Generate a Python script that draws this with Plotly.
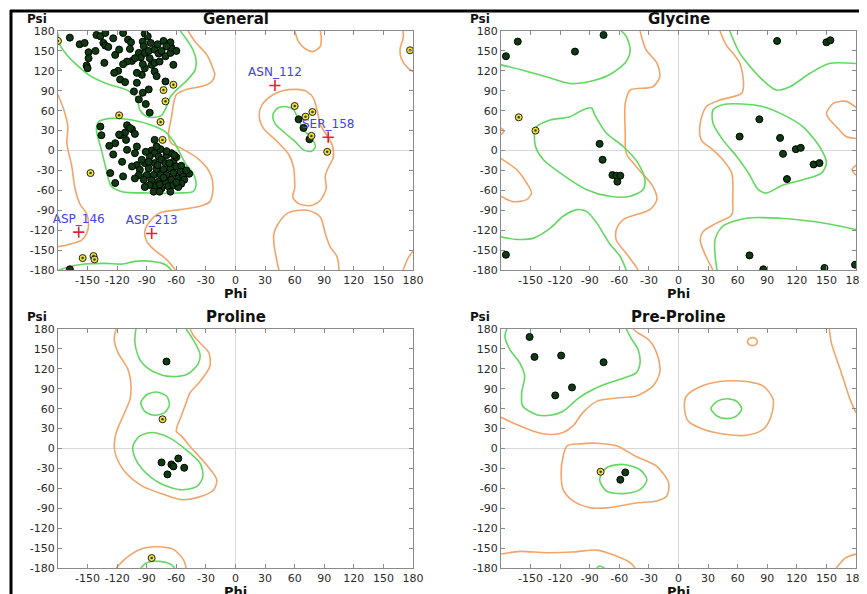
import plotly.graph_objects as go

# page body has an 8px margin, so the figure is placed at (8, 8) in the 867x594 window
OFF = 8
W, H = 867 - OFF, 594 - OFF

# ---------------- data ----------------
PANEL_TITLES = ["General", "Glycine", "Proline", "Pre-Proline"]
X_TICKS = [-150, -120, -90, -60, -30, 0, 30, 60, 90, 120, 150, 180]
Y_TICKS = [-180, -150, -120, -90, -60, -30, 0, 30, 60, 90, 120, 150, 180]

# General: favoured residues (phi, psi)
GEN_FAV = [
    (-168, 170), (-158, 160), (-153, 162), (-149, 148), (-149, 139), (-151, 128), (-150, 124),
    (-141, 174), (-137, 172), (-132, 177), (-134, 162), (-132, 158), (-129, 156), (-122, 144),
    (-133, 132), (-114, 177), (-109, 167), (-106, 163), (-107, 153), (-92, 176), (-89, 172),
    (-94, 164), (-93, 157), (-98, 147), (-96, 140), (-105, 135), (-102, 139), (-110, 134),
    (-114, 130), (-119, 120), (-123, 117), (-117, 107), (-112, 103), (-100, 102), (-103, 89),
    (-92, 147), (-88, 150), (-87, 139), (-82, 152), (-78, 146), (-75, 150), (-71, 142),
    (-66, 147), (-65, 155), (-66, 163), (-63, 129), (-71, 104), (-88, 92), (-94, 87),
    (-91, 70), (-87, 57), (-92, 124), (-95, 114), (-100, 117), (-94, 130), (-85, 129),
    (-82, 132), (-77, 134), (-82, 119), (-80, 112), (-86, 162), (-79, 160), (-73, 165),
    (-70, 157), (-60, 150), (-124, 169), (-118, 152), (-142, 150), (-98, 77),
    (-168, -179),
    # alpha region
    (-137, 36), (-136, 23), (-110, 38), (-105, 32), (-102, 25), (-112, 27), (-117, 23),
    (-122, 11), (-110, 1), (-100, 6), (-124, -6), (-115, -17), (-82, 16), (-85, 0),
    (-82, -4), (-87, -9), (-78, -9), (-75, -14), (-70, -7), (-65, -4), (-63, -17),
    (-71, -19), (-82, -19), (-92, -19), (-100, -22), (-105, -24), (-97, -29), (-88, -27),
    (-80, -28), (-73, -29), (-66, -27), (-60, -24), (-55, -23), (-56, -32), (-63, -34),
    (-70, -37), (-76, -37), (-83, -37), (-90, -37), (-98, -37), (-102, -42), (-93, -44),
    (-85, -45), (-78, -47), (-71, -47), (-65, -44), (-58, -42), (-53, -39), (-68, -54),
    (-75, -57), (-82, -55), (-87, -52), (-63, -52), (-83, -62), (-127, -34), (-122, -49),
    (-114, -39), (-66, -62), (-92, -55), (-95, -14), (-102, -4), (-60, -10), (-47, -35),
    (-50, -30), (-52, -44), (-55, -50), (-58, -55), (-67, -19), (-79, -22), (-88, -17),
    (-73, -41), (-77, -51), (-60, -48), (-77, -62), (-91, -2), (-76, 2), (-70, -1),
    (-62, -7), (-80, 6), (-111, 16), (-118, 24), (-107, 34), (-128, 7),
    # left-handed region
    (64, 47), (69, 34), (75, 17),
]
GEN_ALLOW = [
    (-180, 165), (-73, 91), (-71, 74), (-63, 99), (-76, 43), (-74, 16), (-118, 53),
    (-147, -34), (-155, -162), (-144, -159), (-143, -164), (177, 151),
    (60, 67), (71, 51), (78, 58), (77, 22), (93, -2),
]
GEN_OUT = [(40, 98), (94, 20), (-159, -123), (-85, -125)]
GEN_OUT_LABELS = ["ASN_112", "SER_158", "ASP_146", "ASP_213"]

GLY_FAV = [
    (-175, 142), (-163, 164), (-105, 149), (-76, 174), (-80, 10), (-77, -14), (-67, -37),
    (-63, -38), (-59, -38), (-62, -47), (-175, -157), (100, 165), (150, 163), (154, 166),
    (62, 21), (82, 47), (103, 19), (106, -5), (119, 2), (124, 4), (137, -21), (143, -19),
    (110, -43), (72, -158), (86, -179), (148, -177), (179, -172),
]
GLY_ALLOW = [(-162, 50), (-145, 30)]

PRO_FAV = [(-70, 131), (-75, -21), (-65, -24), (-63, -27), (-58, -15), (-52, -29), (-69, -39)]
PRO_ALLOW = [(-74, 44), (-85, -165)]

PRE_FAV = [(-151, 168), (-146, 138), (-119, 140), (-76, 130), (-108, 92), (-125, 80),
           (-54, -36), (-59, -47)]
PRE_ALLOW = [(-79, -35)]

# contour lines (phi, psi)
GEN_GREEN = [
    [(-180, 176), (-178, 159), (-171, 144), (-161, 129), (-149, 114), (-131, 101), (-110, 91),
     (-100, 79), (-97, 61), (-90, 51), (-82, 50), (-75, 53), (-70, 66), (-66, 81), (-60, 91),
     (-49, 106), (-41, 121), (-40, 136), (-43, 151), (-49, 166), (-56, 180)],
    [(-139, 43), (-129, 48), (-105, 46), (-85, 38), (-71, 28), (-62, 12), (-51, -19),
     (-43, -34), (-40, -52), (-43, -62), (-58, -64), (-88, -64), (-115, -62), (-126, -54),
     (-131, -29), (-136, 1), (-141, 31), (-139, 43)],
    [(-180, -181), (-173, -177), (-153, -171), (-132, -170), (-115, -171), (-102, -167),
     (-85, -167), (-71, -172), (-65, -180)],
    [(38, 54), (43, 64), (52, 66), (59, 61), (64, 46), (69, 31), (77, 19), (81, 6), (77, -1),
     (69, 1), (60, 14), (48, 29), (40, 41), (38, 54)],
]
GEN_ORANGE = [
    [(-48, 180), (-41, 164), (-29, 144), (-23, 124), (-21, 114), (-24, 104), (-33, 97),
     (-50, 92), (-60, 84), (-63, 69), (-65, 49), (-68, 24), (-65, 11), (-56, 4), (-39, -11),
     (-29, -26), (-24, -41), (-23, -61), (-26, -77), (-36, -84), (-56, -89), (-77, -94),
     (-87, -107), (-92, -122), (-90, -137), (-83, -149), (-70, -164), (-61, -180)],
    [(-180, 84), (-174, 61), (-170, 36), (-171, 11), (-166, -24), (-163, -55), (-158, -80),
     (-151, -95), (-149, -112), (-151, -125), (-156, -135), (-170, -142), (-180, -145)],
    [(60, 180), (64, 164), (70, 154), (79, 149), (86, 157), (87, 169), (86, 180)],
    [(170, 180), (170, 169), (167, 154), (168, 139), (175, 124), (181, 118)],
    [(181, -150), (175, -162), (170, -180)],
    [(38, 84), (48, 90), (62, 92), (72, 89), (79, 79), (83, 59), (86, 39), (92, 24), (98, 9),
     (99, -11), (94, -26), (91, -39), (92, -57), (86, -75), (76, -83), (64, -80), (58, -70),
     (60, -57), (60, -46), (59, -26), (54, -6), (42, 14), (28, 34), (24, 54), (27, 69), (38, 84)],
    [(44, -180), (39, -125), (52, -95), (73, -90), (86, -100), (91, -125), (96, -145),
     (103, -160), (105, -180)],
]

GLY_GREEN = [
    [(-180, 129), (-158, 121), (-134, 111), (-110, 101), (-90, 104), (-70, 114), (-53, 134),
     (-49, 152), (-53, 172), (-58, 180)],
    [(-144, 36), (-130, 46), (-110, 51), (-97, 61), (-88, 64), (-85, 54), (-73, 26), (-56, 6),
     (-41, -19), (-34, -44), (-36, -59), (-49, -69), (-70, -69), (-93, -59), (-117, -37),
     (-137, -14), (-145, 6), (-146, 29), (-144, 36)],
    [(-180, -130), (-164, -134), (-147, -132), (-130, -117), (-117, -99), (-103, -89),
     (-93, -92), (-83, -109), (-70, -140), (-59, -160), (-53, -180)],
    [(52, 180), (62, 147), (82, 111), (99, 91), (113, 96), (133, 116), (153, 131), (180, 131)],
    [(35, 61), (45, 69), (65, 70), (86, 66), (106, 54), (126, 36), (143, 6), (150, -19),
     (145, -34), (126, -44), (106, -52), (89, -64), (81, -59), (71, -34), (59, -9), (45, 16),
     (35, 41), (35, 61)],
    [(39, -180), (37, -135), (45, -114), (69, -102), (103, -102), (137, -107), (164, -114),
     (180, -119)],
]
GLY_ORANGE = [
    [(-39, 180), (-33, 152), (-22, 132), (-19, 111), (-26, 96), (-49, 91), (-54, 71),
     (-54, 26), (-53, -4), (-43, -24), (-26, -54), (-22, -74), (-29, -89), (-56, -104),
     (-63, -119), (-63, -135), (-53, -155), (-43, -175), (-41, -180)],
    [(42, 180), (48, 160), (62, 132), (66, 101), (64, 86), (42, 76), (28, 66), (22, 41),
     (23, 16), (35, 1), (45, -14), (54, -34), (55, -74), (54, -97), (39, -109), (25, -122),
     (22, -135), (28, -160), (35, -180)],
    [(-180, -12), (-178, -14), (-164, -29), (-154, -49), (-149, -64), (-154, -74),
     (-168, -77), (-180, -69)],
    [(-180, 34), (-177, 29), (-180, 24)],
    [(180, 65), (170, 74), (157, 71), (150, 56), (152, 49), (160, 36), (170, 21), (180, 18)],
    [(180, -22), (176, -29), (180, -37)],
]

PRO_GREEN = [
    [(-101, 180), (-102, 159), (-97, 134), (-87, 119), (-70, 109), (-50, 111), (-38, 127),
     (-36, 142), (-43, 164), (-50, 180)],
    [(-96, 69), (-90, 81), (-80, 85), (-70, 79), (-67, 66), (-72, 54), (-82, 50), (-92, 56),
     (-96, 69)],
    [(-104, 4), (-97, 19), (-84, 24), (-67, 16), (-50, -2), (-36, -22), (-33, -42), (-39, -57),
     (-56, -62), (-77, -52), (-94, -32), (-102, -14), (-104, 4)],
    [(-96, -180), (-90, -172), (-77, -170), (-65, -175), (-62, -180)],
]
PRO_ORANGE = [
    [(-121, 180), (-123, 164), (-119, 144), (-109, 119), (-106, 94), (-107, 74), (-114, 49),
     (-121, 24), (-123, 4), (-121, -12), (-111, -37), (-94, -57), (-73, -69), (-55, -77),
     (-39, -74), (-22, -62), (-19, -47), (-28, -27), (-43, -2), (-55, 19), (-60, 26),
     (-55, 49), (-50, 69), (-46, 84), (-36, 101), (-26, 124), (-27, 144), (-36, 159),
     (-43, 171), (-46, 180)],
    [(-121, -180), (-111, -165), (-97, -152), (-80, -148), (-63, -152), (-53, -167), (-50, -180)],
]

PRE_GREEN = [
    [(-174, 180), (-176, 169), (-171, 149), (-161, 129), (-156, 109), (-159, 84), (-158, 64),
     (-144, 51), (-130, 50), (-117, 56), (-103, 74), (-93, 84), (-76, 96), (-56, 106),
     (-43, 114), (-39, 129), (-41, 149), (-48, 166), (-53, 180)],
    [(-80, -47), (-73, -29), (-56, -24), (-39, -32), (-32, -47), (-39, -62), (-56, -68),
     (-73, -64), (-80, -47)],
    [(33, 60), (39, 71), (49, 75), (59, 71), (64, 60), (59, 49), (49, 45), (39, 49), (33, 60)],
    [(-83, -180), (-80, -177), (-75, -180)],
]
PRE_ORANGE = [
    [(-180, 47), (-164, 36), (-147, 26), (-130, 21), (-117, 24), (-107, 34), (-97, 54),
     (-83, 71), (-63, 76), (-43, 79), (-26, 94), (-19, 114), (-21, 139), (-29, 162),
     (-43, 176), (-46, 180)],
    [(-117, -12), (-113, 4), (-100, 7), (-83, 8), (-63, 4), (-43, -12), (-22, -27), (-10, -52),
     (-12, -72), (-22, -79), (-43, -82), (-70, -89), (-90, -89), (-107, -79), (-117, -62),
     (-119, -37), (-117, -12)],
    [(8, 79), (22, 93), (42, 101), (69, 101), (86, 94), (96, 74), (94, 49), (86, 29), (69, 20),
     (49, 21), (25, 29), (10, 41), (6, 61), (8, 79)],
    [(70, 161), (72, 166), (75, 167), (78, 166), (80, 161), (78, 156), (75, 155), (72, 156),
     (70, 161)],
    [(153, 180), (155, 159), (164, 119), (174, 74), (180, 54)],
    [(-180, -159), (-161, -155), (-134, -157), (-107, -156), (-83, -153), (-63, -162),
     (-49, -172), (-44, -180)],
    [(160, -180), (169, -165), (180, -159)],
]

# ---------------- styling / layout ----------------
GREEN = "#62d862"
ORANGE = "#f2a56a"
DARK = "#0f3b12"
YELLOW = "#f0e43a"
FONT = "DejaVu Sans"

# panel boxes in window pixels: (x0, x1, y0, y1)
BOXES = [(58, 413, 31, 270), (501, 856, 31, 270), (58, 413, 329, 568), (501, 856, 329, 568)]


def px(x):
    return (x - OFF) / W


def py(y):
    return 1 - (y - OFF) / H


panels = [
    (GEN_FAV, GEN_ALLOW, GEN_GREEN, GEN_ORANGE),
    (GLY_FAV, GLY_ALLOW, GLY_GREEN, GLY_ORANGE),
    (PRO_FAV, PRO_ALLOW, PRO_GREEN, PRO_ORANGE),
    (PRE_FAV, PRE_ALLOW, PRE_GREEN, PRE_ORANGE),
]

fig = go.Figure()


def ax_ids(i):
    s = "" if i == 0 else str(i + 1)
    return "x" + s, "y" + s


for i, (fav, allow, greens, oranges) in enumerate(panels):
    xa, ya = ax_ids(i)
    for poly in oranges:
        fig.add_trace(go.Scatter(x=[p[0] for p in poly], y=[p[1] for p in poly], mode="lines",
                                 line=dict(color=ORANGE, width=1.6, shape="spline", smoothing=0.8),
                                 xaxis=xa, yaxis=ya, hoverinfo="skip", showlegend=False))
    for poly in greens:
        fig.add_trace(go.Scatter(x=[p[0] for p in poly], y=[p[1] for p in poly], mode="lines",
                                 line=dict(color=GREEN, width=1.6, shape="spline", smoothing=0.8),
                                 xaxis=xa, yaxis=ya, hoverinfo="skip", showlegend=False))
    fig.add_trace(go.Scatter(x=[p[0] for p in fav], y=[p[1] for p in fav], mode="markers",
                             marker=dict(color=DARK, size=7, line=dict(color="#000", width=1)),
                             xaxis=xa, yaxis=ya, showlegend=False))
    fig.add_trace(go.Scatter(x=[p[0] for p in allow], y=[p[1] for p in allow], mode="markers",
                             marker=dict(color=YELLOW, size=7, line=dict(color="#222", width=1)),
                             xaxis=xa, yaxis=ya, showlegend=False))
    fig.add_trace(go.Scatter(x=[p[0] for p in allow], y=[p[1] for p in allow], mode="markers",
                             marker=dict(color="#3a3a1a", size=2.5),
                             xaxis=xa, yaxis=ya, showlegend=False))

# outliers in General panel
fig.add_trace(go.Scatter(x=[p[0] for p in GEN_OUT], y=[p[1] for p in GEN_OUT],
                         mode="markers+text", text=GEN_OUT_LABELS, textposition="top center",
                         textfont=dict(family=FONT, size=12, color="#4141f0"),
                         marker=dict(symbol="cross-thin", size=8,
                                     line=dict(color="#e8202a", width=1.6)),
                         xaxis="x", yaxis="y", showlegend=False, cliponaxis=False))

layout = dict(width=W, height=H, margin=dict(l=0, r=0, t=0, b=0, autoexpand=False),
              paper_bgcolor="white", plot_bgcolor="white", showlegend=False)

annotations = []
for i, (x0, x1, y0, y1) in enumerate(BOXES):
    sx = "" if i == 0 else str(i + 1)
    common = dict(range=[-180, 180], showgrid=False, zeroline=True, zerolinecolor="#d8d8d8",
                  zerolinewidth=1, showline=True, linecolor="#8a8a8a", linewidth=1,
                  mirror="ticks", ticks="inside", ticklen=4, tickcolor="#8a8a8a",
                  tickfont=dict(family=FONT, size=11, color="#2a2a2a"), fixedrange=True,
                  automargin=False)
    layout["xaxis" + sx] = dict(common, domain=[px(x0), px(x1)], anchor="y" + sx,
                                tickvals=X_TICKS, ticktext=[str(v) for v in X_TICKS])
    layout["yaxis" + sx] = dict(common, domain=[py(y1), py(y0)], anchor="x" + sx,
                                tickvals=Y_TICKS, ticktext=[str(v) for v in Y_TICKS])
    cx = (x0 + x1) / 2
    annotations.append(dict(text="<b>" + PANEL_TITLES[i] + "</b>", x=px(cx), y=py(y0 - 12),
                            xref="paper", yref="paper", showarrow=False, xanchor="center",
                            yanchor="middle", font=dict(family=FONT, size=15, color="#111")))
    annotations.append(dict(text="<b>Psi</b>", x=px(x0 - 21), y=py(y0 - 12),
                            xref="paper", yref="paper", showarrow=False, xanchor="center",
                            yanchor="middle", font=dict(family=FONT, size=12, color="#111")))
    annotations.append(dict(text="<b>Phi</b>", x=px(cx), y=py(y1 + 23),
                            xref="paper", yref="paper", showarrow=False, xanchor="center",
                            yanchor="middle", font=dict(family=FONT, size=13, color="#111")))

layout["annotations"] = annotations
layout["shapes"] = [
    dict(type="line", xref="paper", yref="paper", x0=px(10), x1=1, y0=py(11), y1=py(11),
         line=dict(color="black", width=3)),
    dict(type="line", xref="paper", yref="paper", x0=px(11), x1=px(11), y0=0, y1=py(10),
         line=dict(color="black", width=3)),
]
fig.update_layout(**layout)
fig.write_html("out.html")
